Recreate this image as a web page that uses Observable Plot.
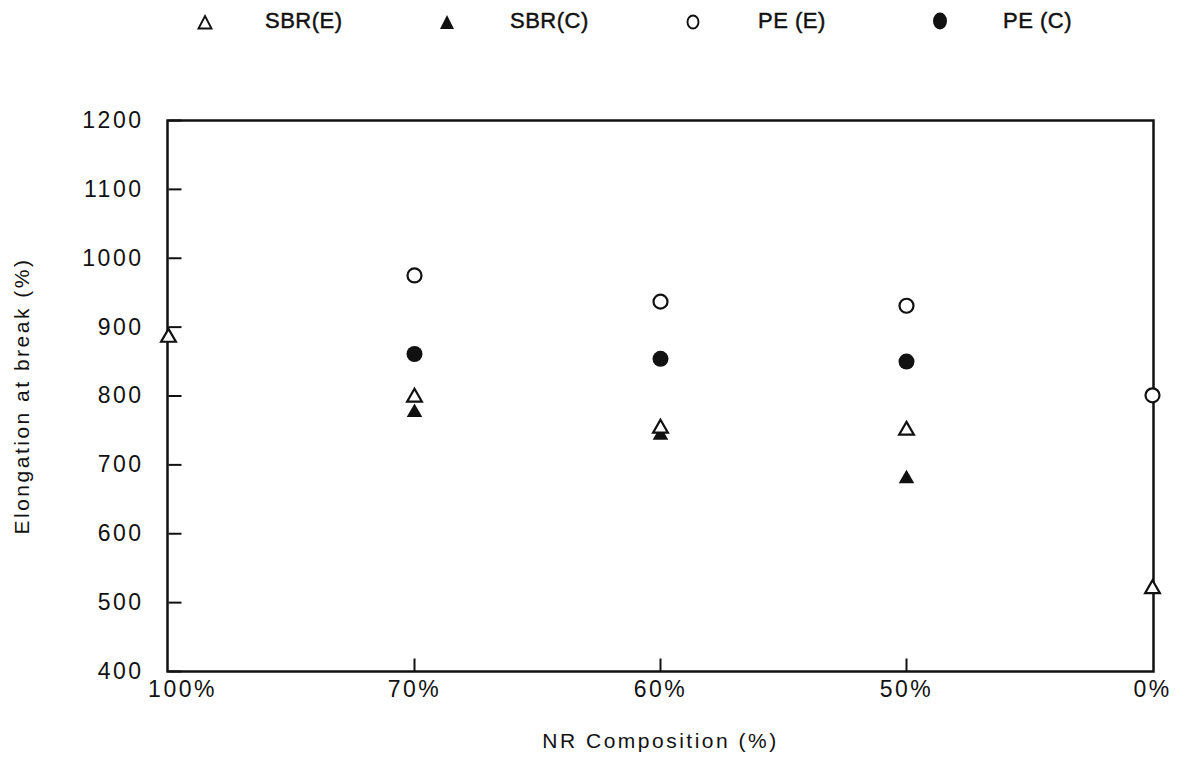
<!DOCTYPE html>
<html>
<head>
<meta charset="utf-8">
<script src="https://cdn.jsdelivr.net/npm/d3@7"></script>
<script src="https://cdn.jsdelivr.net/npm/@observablehq/plot@0.6"></script>
<style>
  html, body { margin: 0; padding: 0; background: #fff; }
  #wrap { position: relative; width: 1186px; height: 768px; font-family: "Liberation Sans", Arial, sans-serif; color: #111; }
  #wrap svg text { -webkit-text-stroke: 0.4px #111; }
  .leg { position: absolute; top: 7px; font-size: 22px; letter-spacing: 0.5px; white-space: pre; line-height: 28px; -webkit-text-stroke: 0.45px #111; }
  .sym { position: absolute; }
</style>
</head>
<body>
<div id="wrap"></div>
<script>
const categories = ["100%", "70%", "60%", "50%", "0%"];
const sbrE = [885, 798, 753, 750, 520];
const sbrC = [null, 776, 743, 680, null];
const peE  = [null, 975, 937, 931, 801];
const peC  = [null, 861, 854, 850, null];
const yTicks = [400, 500, 600, 700, 800, 900, 1000, 1100, 1200];
const xInnerTicks = ["70%", "60%", "50%"];
const legendLabels = ["SBR(E)", "SBR(C)", "PE (E)", "PE (C)"];
const yTitle = "Elongation at break (%)";
const xTitle = "NR Composition (%)";

const rows = (vals) => categories.map((c, i) => ({x: c, y: vals[i]})).filter(d => d.y != null);
const ink = "#111";
const tickRight = {draw(context) { context.moveTo(0, 0); context.lineTo(13, 0); }};
const tickUp = {draw(context) { context.moveTo(0, 0); context.lineTo(0, -13); }};

const chart = Plot.plot({
  width: 1186,
  height: 768,
  marginLeft: 167,
  marginRight: 33,
  marginTop: 120,
  marginBottom: 97,
  style: {fontFamily: '"Liberation Sans", Arial, sans-serif', fontSize: "23px", color: ink, background: "white", overflow: "visible"},
  x: {type: "point", domain: categories, padding: 0, axis: null},
  y: {domain: [400, 1200], axis: null},
  marks: [
    Plot.frame({stroke: ink, strokeWidth: 2.5}),
    Plot.dot(yTicks, {x: () => categories[0], y: d => d, symbol: tickRight, fill: "none", stroke: ink, strokeWidth: 2}),
    Plot.dot(xInnerTicks, {x: d => d, y: () => 400, symbol: tickUp, fill: "none", stroke: ink, strokeWidth: 2}),
    Plot.text(yTicks, {x: () => categories[0], y: d => d, text: d => String(d), textAnchor: "end", dx: -25, fontSize: 23, fill: ink}),
    Plot.text(categories.slice(1), {x: d => d, y: () => 400, text: d => d, lineAnchor: "top", dy: 9, fontSize: 23, fill: ink}),
    Plot.text(categories.slice(0, 1), {x: d => d, y: () => 400, text: d => d, lineAnchor: "top", dy: 9, dx: 14, fontSize: 23, fill: ink}),
    Plot.text([yTitle], {frameAnchor: "left", textAnchor: "middle", dx: -145, rotate: -90, fontSize: 21, fill: ink, text: d => d}),
    Plot.text([xTitle], {frameAnchor: "bottom", textAnchor: "middle", dy: 76, fontSize: 21, fill: ink, text: d => d}),
    Plot.dot(rows(peE), {x: "x", y: "y", r: 7, stroke: ink, strokeWidth: 2.2, fill: "white"}),
    Plot.dot(rows(peC), {x: "x", y: "y", r: 8, fill: ink, stroke: "none"}),
    Plot.dot(rows(sbrC), {x: "x", y: "y", symbol: "triangle", r: 5.8, fill: ink, stroke: "none"}),
    Plot.dot(rows(sbrE), {x: "x", y: "y", symbol: "triangle", r: 5.5, fill: "white", stroke: ink, strokeWidth: 2.2})
  ]
});

chart.querySelectorAll("text").forEach(t => { t.style.letterSpacing = "2.5px"; });

const wrap = document.getElementById("wrap");
chart.style.position = "absolute";
chart.style.left = "0px";
chart.style.top = "0px";
wrap.appendChild(chart);

const symbols = [
  {x: 205, svg: '<svg width="18" height="18" viewBox="0 0 18 18"><path d="M9,3 L15.5,15.5 L2.5,15.5 Z" fill="white" stroke="#111" stroke-width="1.9"/></svg>'},
  {x: 447, svg: '<svg width="18" height="18" viewBox="0 0 18 18"><path d="M9,2 L16,16 L2,16 Z" fill="#111"/></svg>'},
  {x: 693, svg: '<svg width="18" height="18" viewBox="0 0 18 18"><ellipse cx="9" cy="9" rx="5.5" ry="6.5" fill="white" stroke="#111" stroke-width="1.9"/></svg>'},
  {x: 940, svg: '<svg width="18" height="20" viewBox="0 0 18 20"><ellipse cx="9" cy="10" rx="7" ry="8.5" fill="#111"/></svg>'}
];
const labelX = [265, 510, 758, 1003];
symbols.forEach((s, i) => {
  const d = document.createElement("div");
  d.className = "sym";
  d.style.left = (s.x - 9) + "px";
  d.style.top = (i === 3 ? 11 : 13) + "px";
  d.innerHTML = s.svg;
  wrap.appendChild(d);
  const t = document.createElement("div");
  t.className = "leg";
  t.style.left = labelX[i] + "px";
  t.textContent = legendLabels[i];
  wrap.appendChild(t);
});
</script>
</body>
</html>
